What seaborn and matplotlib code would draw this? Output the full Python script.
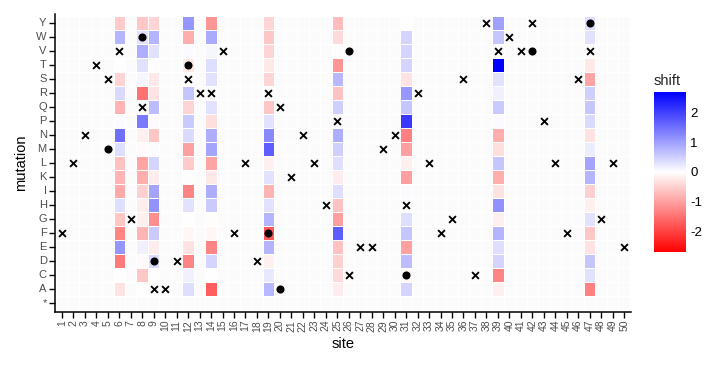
import numpy as np
import pandas as pd
import matplotlib
matplotlib.use('Agg')
import matplotlib.pyplot as plt
import seaborn as sns
from matplotlib.colors import LinearSegmentedColormap, ListedColormap

# rows top -> bottom
mutations = ['Y', 'W', 'V', 'T', 'S', 'R', 'Q', 'P', 'N', 'M', 'L',
             'K', 'I', 'H', 'G', 'F', 'E', 'D', 'C', 'A', '*']
sites = list(range(1, 51))
nan = np.nan

# shift values per measured site, order follows `mutations`
#            Y     W     V     T     S     R     Q     P     N     M     L     K     I     H     G     F     E     D     C     A    *
site6  = [-0.55, 0.8,  nan,  0.0, -0.45, 0.4, -0.8,  0.05, 1.5,  0.35, -0.65, -0.8, -0.9,  0.35, -0.6, -1.3,  1.1, -1.4, -0.02, -0.3, nan]
site8  = [-0.6,  0.3,  0.85, 0.3,  0.1, -1.5,  nan,  1.4, -0.15, -0.05, -0.95, -0.85, -0.5, -0.2, -0.15, -0.8,  0.15, -0.05, -0.6, 0.0, nan]
site9  = [-0.45, 0.8,  0.3, -0.03, -0.25, -0.3, 0.7,  0.05, -0.6, 0.05, 0.45, -0.2,  0.95, 1.15, -1.2,  0.55, -0.2,  0.4,  0.0,  nan, nan]
site12 = [1.1, -0.85,  0.05, -0.25, nan,  0.6, -0.45, 0.55, 0.4, -1.0, -0.55, -0.03, -1.3,  0.3, -0.02, -0.1, -0.3, -1.3,  0.15, 0.35, nan]
site14 = [-1.1,  0.9,  0.1,  0.35, 0.3,  nan,  0.3, -0.35, 0.85, 0.95, -0.95, -0.25, 0.85, 0.55, -0.03, -0.1, -1.3,  0.45, -0.02, -1.7, nan]
site19 = [-0.45, -0.6, -0.45, -0.25, -0.45, nan, -0.6, 0.3,  1.25, 1.7, -0.15, 0.3, -0.8,  0.3,  0.8, -1.75,  0.8, -0.15, 0.25, 0.75, nan]
site25 = [-0.7, -0.4, -0.03, -1.1, 0.75, -0.65, 0.5,  nan,  0.85, 0.5,  0.35, -0.2,  0.35, -0.65, -1.0, 1.7, -0.65, -0.5, -0.4, -0.2, nan]
site31 = [0.0,  0.45, 0.45, 0.45, -0.3, 1.1,  0.6,  2.1, -1.35, -1.0, -0.15, -1.0, 0.05, nan,  0.35, 0.6, -1.0,  0.7, -0.1,  0.45, nan]
site39 = [1.0,  0.6,  nan,  2.7,  0.3,  0.15, 0.55, 0.05, -0.85, -0.35, 0.6, -0.85, -0.3, 1.15, -0.15, 0.8, 0.35, 0.45, -1.3, -0.15, nan]
site47 = [0.35, 0.3,  nan, -0.25, -0.95, 0.5, 0.6,  0.4, -0.3,  0.2,  0.95, 0.8, -0.5, -0.15, 0.3, -0.6, -0.3,  0.6,  0.3, -1.35, nan]

shift_columns = {6: site6, 8: site8, 9: site9, 12: site12, 14: site14,
                 19: site19, 25: site25, 31: site31, 39: site39, 47: site47}

missing = [(1, 'F'), (2, 'L'), (3, 'N'), (4, 'T'), (5, 'S'), (6, 'V'), (7, 'G'),
           (8, 'Q'), (9, 'A'), (10, 'A'), (11, 'D'), (12, 'S'), (13, 'R'), (14, 'R'),
           (15, 'V'), (16, 'F'), (17, 'L'), (18, 'D'), (19, 'R'), (20, 'Q'), (21, 'K'),
           (22, 'N'), (23, 'L'), (24, 'H'), (25, 'P'), (26, 'C'), (27, 'E'), (28, 'E'),
           (29, 'M'), (30, 'N'), (31, 'H'), (32, 'R'), (33, 'L'), (34, 'F'), (35, 'G'),
           (36, 'S'), (37, 'C'), (38, 'Y'), (39, 'V'), (40, 'W'), (41, 'V'), (42, 'Y'),
           (43, 'P'), (44, 'L'), (45, 'F'), (46, 'S'), (47, 'V'), (48, 'G'), (49, 'L'),
           (50, 'E')]
wildtype = [(5, 'M'), (8, 'W'), (9, 'D'), (12, 'T'), (19, 'F'), (20, 'A'),
            (26, 'V'), (31, 'C'), (42, 'V'), (47, 'Y')]

sns.set_theme(style='white')
plt.rcParams['font.family'] = ['Liberation Sans', 'DejaVu Sans']
plt.rcParams['axes.unicode_minus'] = False

fig = plt.figure(figsize=(7.19, 3.70), dpi=100)
ax = fig.add_axes([55 / 719, 1 - 311.5 / 370, 576 / 719, 297 / 370])
cax = fig.add_axes([654 / 719, 1 - 252 / 370, 32 / 719, 160 / 370])

bg = pd.DataFrame(0.0, index=mutations, columns=sites)
sns.heatmap(bg, cmap=ListedColormap(['#FBFBFB']), cbar=False,
            linewidths=0.7, linecolor='white', ax=ax)

df = pd.DataFrame(nan, index=mutations, columns=sites)
for s, vals in shift_columns.items():
    df[s] = vals
cmap = LinearSegmentedColormap.from_list('rwb', ['#FF0000', '#FFFFFF', '#0000FF'])
sns.heatmap(df, cmap=cmap, vmin=-2.7, vmax=2.7, linewidths=0.7, linecolor='white',
            ax=ax, cbar_ax=cax, cbar_kws={'ticks': [-2, -1, 0, 1, 2]})

mx = [sites.index(s) + 0.5 for s, m in missing]
my = [mutations.index(m) + 0.5 for s, m in missing]
ax.scatter(mx, my, marker='x', s=24, linewidths=1.35, color='black', zorder=5)
wx = [sites.index(s) + 0.5 for s, m in wildtype]
wy = [mutations.index(m) + 0.5 for s, m in wildtype]
ax.scatter(wx, wy, marker='o', s=34, color='black', linewidths=0, zorder=5)

ax.set_xlim(-0.1, 50.1)
ax.set_ylim(21.1, -0.1)
ax.set_xticks([i + 0.5 for i in range(len(sites))])
ax.set_xticklabels([str(s) for s in sites], rotation=90, fontsize=7.5, color='#4D4D4D')
ax.set_yticks([i + 0.5 for i in range(len(mutations))])
ax.set_yticklabels(mutations, rotation=0, fontsize=8, color='#4D4D4D')
for side in ['left', 'bottom']:
    ax.spines[side].set_visible(True)
    ax.spines[side].set_color('black')
    ax.spines[side].set_linewidth(1.1)
for side in ['right', 'top']:
    ax.spines[side].set_visible(False)
ax.tick_params(axis='both', which='major', bottom=True, left=True, length=4,
               width=1, color='black', direction='out', pad=2)
ax.set_xlabel('site', fontsize=10.5, color='black', labelpad=4)
ax.set_ylabel('mutation', fontsize=10.5, color='black', labelpad=6)

cax.tick_params(direction='in', length=6, width=1, color='#D8D8D8', left=True,
                right=True, labelsize=9.5, labelcolor='black', pad=3)
cax.yaxis.set_ticks_position('both')
cax.yaxis.set_tick_params(labelleft=False, labelright=True)
for sp in cax.spines.values():
    sp.set_visible(False)
fig.text(654 / 719, 1 - 81 / 370, 'shift', fontsize=10.5, ha='left', va='center')

fig.savefig('out.png', dpi=100)
